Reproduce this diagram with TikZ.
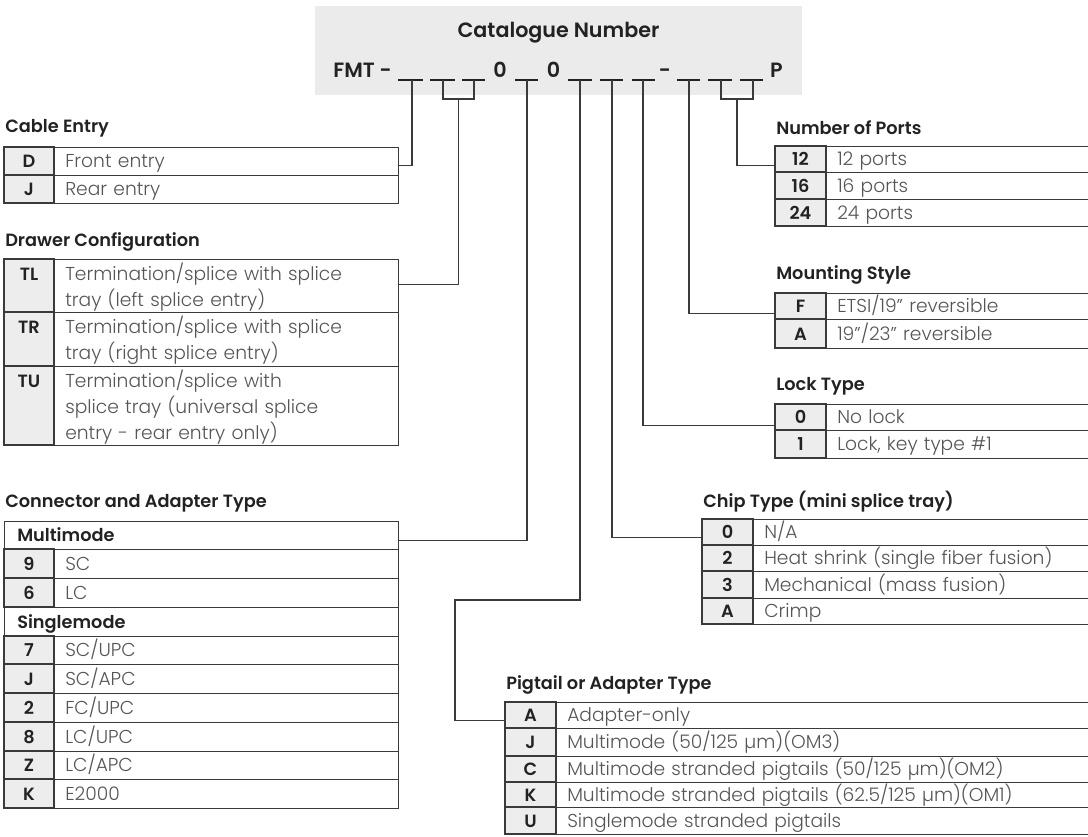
\documentclass[tikz,border=0pt]{standalone}
\usepackage{fontspec}
\setmainfont{Poppins}[UprightFont=* Light, BoldFont=* SemiBold]
\usepackage{tikz}
\usetikzlibrary{calc}
\definecolor{boxgray}{HTML}{EBEBEB}
\definecolor{codegray}{HTML}{EDEDED}
\definecolor{linegray}{HTML}{3A3A3A}
\definecolor{descgray}{HTML}{555555}
\definecolor{inkblack}{HTML}{222222}
\tikzset{
  tabtitle/.style={anchor=west, inner sep=0, font=\bfseries\fontsize{13.3}{16}\selectfont, text=inkblack},
  codetext/.style={inner sep=0, anchor=base, font=\bfseries\fontsize{13.3}{16}\selectfont, text=inkblack},
  desctext/.style={anchor=base west, inner sep=0, align=left, font=\fontsize{14}{19.5}\selectfont, text=descgray},
  rowbox/.style={draw=linegray, line width=1pt, inner sep=0, anchor=north west},
  leader/.style={draw=linegray, line width=1pt},
  slot/.style={draw=inkblack, line width=1.6pt},
  partno/.style={inner sep=0, anchor=base, font=\bfseries\fontsize{15.5}{18}\selectfont, text=inkblack}
}
\def\tabrow#1#2#3#4#5% Syntax: {name}{top}{bottom}{code}{description}
    { \node[rowbox, minimum width={(\tabR-\tabL)*0.75pt}, minimum height={(#3-#2)*0.75pt}] (#1) at (\tabL,#2) {};
      \filldraw[leader, fill=codegray] (\tabL,#2) rectangle (\tabD,#3);
      \pgfmathsetmacro\rowbase{#3-#2<35 ? (#2+#3)/2+6.5 : #2+21}
      \node[codetext] (#1c) at ({(\tabL+\tabD)/2},\rowbase) {#4};
      \node[desctext, text width={(\tabR-\tabD-22)*0.75pt}] (#1d) at (\tabD+11,\rowbase) {#5}; }
\def\tabhead#1#2#3#4% Syntax: {name}{top}{bottom}{text}
    { \node[rowbox, minimum width={(\tabR-\tabL)*0.75pt}, minimum height={(#3-#2)*0.75pt}] (#1) at (\tabL,#2) {};
      \node[codetext, anchor=base west] (#1c) at (\tabL+13,{(#2+#3)/2+6.5}) {#4}; }

\begin{document}
\begin{tikzpicture}[x=0.75pt,y=-0.75pt]
   \useasboundingbox (0,0) rectangle (1088,836);

   % catalogue number
   \node[fill=boxgray, inner sep=0, minimum width=365.25pt, minimum height=66.75pt] (catbox) at (558.5,50.5) {};
   \node[partno, anchor=center] (cattitle) at (558.5,33) {Catalogue Number};
   \node[partno, anchor=base east] (fmt) at (392,77) {FMT -};
   \node[partno] (zeroa) at (500,77) {0};
   \node[partno] (zerob) at (553.5,77) {0};
   \node[partno] (dash) at (665,77) {-};
   \node[partno] (pend) at (776.5,77) {P};

   \draw[slot] (398,80) -- (423,80);   \coordinate (u1) at (412,80);
   \draw[slot] (430,80) -- (455,80);   \coordinate (u2) at (443,80);
   \draw[slot] (462,80) -- (485,80);   \coordinate (u3) at (474,80);
   \draw[slot] (515,80) -- (538,80);   \coordinate (u4) at (527,80);
   \draw[slot] (568,80) -- (592,80);   \coordinate (u5) at (580,80);
   \draw[slot] (600,80) -- (623,80);   \coordinate (u6) at (612,80);
   \draw[slot] (632,80) -- (655,80);   \coordinate (u7) at (643,80);
   \draw[slot] (677,80) -- (700,80);   \coordinate (u8) at (689,80);
   \draw[slot] (708,80) -- (732,80);   \coordinate (u9) at (721,80);
   \draw[slot] (740,80) -- (763,80);   \coordinate (u10) at (753,80);

   % left column
   \def\tabL{4}\def\tabD{54}\def\tabR{398}
   \node[tabtitle] (cetitle) at (5,128) {Cable Entry};
   \tabrow{ce-D}{147}{175}{D}{Front entry}
   \tabrow{ce-J}{175}{203}{J}{Rear entry}

   \node[tabtitle] (dctitle) at (5,242) {Drawer Configuration};
   \tabrow{dc-TL}{259}{312}{TL}{Termination/splice with splice\\tray (left splice entry)}
   \tabrow{dc-TR}{312}{366}{TR}{Termination/splice with splice\\tray (right splice entry)}
   \tabrow{dc-TU}{366}{445}{TU}{Termination/splice with\\splice tray (universal splice\\entry - rear entry only)}

   \node[tabtitle] (cattitle) at (5,503) {Connector and Adapter Type};
   \tabhead{cat-MM}{521}{549}{Multimode}
   \tabrow{cat-9}{549}{578}{9}{SC}
   \tabrow{cat-6}{578}{607}{6}{LC}
   \tabhead{cat-SM}{607}{636}{Singlemode}
   \tabrow{cat-7}{636}{664}{7}{SC/UPC}
   \tabrow{cat-J}{664}{693}{J}{SC/APC}
   \tabrow{cat-2}{693}{722}{2}{FC/UPC}
   \tabrow{cat-8}{722}{751}{8}{LC/UPC}
   \tabrow{cat-Z}{751}{779}{Z}{LC/APC}
   \tabrow{cat-K}{779}{808}{K}{E2000}

   % right column
   \def\tabL{775}\def\tabD{826}\def\tabR{1100}
   \node[tabtitle] (nptitle) at (776,128) {Number of Ports};
   \tabrow{np-12}{146}{172}{12}{12 ports}
   \tabrow{np-16}{172}{199}{16}{16 ports}
   \tabrow{np-24}{199}{226}{24}{24 ports}

   \node[tabtitle] (mstitle) at (776,275) {Mounting Style};
   \tabrow{ms-F}{293}{319}{F}{ETSI/19" reversible}
   \tabrow{ms-A}{319}{348}{A}{19"/23" reversible}

   \node[tabtitle] (lttitle) at (776,386) {Lock Type};
   \tabrow{lt-0}{404}{430}{0}{No lock}
   \tabrow{lt-1}{430}{458}{1}{Lock, key type \#1}

   \def\tabL{702}\def\tabD{753}
   \node[tabtitle] (cttitle) at (703,502) {Chip Type (mini splice tray)};
   \tabrow{ct-0}{519}{545}{0}{N/A}
   \tabrow{ct-2}{545}{571}{2}{Heat shrink (single fiber fusion)}
   \tabrow{ct-3}{571}{598}{3}{Mechanical (mass fusion)}
   \tabrow{ct-A}{598}{624}{A}{Crimp}

   \def\tabL{505}\def\tabD{556}
   \node[tabtitle] (patitle) at (506,685) {Pigtail or Adapter Type};
   \tabrow{pa-A}{702}{728}{A}{Adapter-only}
   \tabrow{pa-J}{728}{756}{J}{Multimode (50/125 µm)(OM3)}
   \tabrow{pa-C}{756}{782}{C}{Multimode stranded pigtails (50/125 µm)(OM2)}
   \tabrow{pa-K}{782}{807}{K}{Multimode stranded pigtails (62.5/125 µm)(OM1)}
   \tabrow{pa-U}{807}{834}{U}{Singlemode stranded pigtails}

   % leaders
   \draw[leader] (u1) |- ($(ce-D.east)+(0,4)$);
   \draw[leader] (u2) -- ++(0,19) -| (u3);
   \draw[leader] ($(u2)!0.5!(u3)+(0,19)$) |- ($(dc-TL.east)+(0,-2)$);
   \draw[leader] (u4) |- ($(cat-MM.east)+(0,5)$);
   \draw[leader] (u5) -- ++(0,520) -| ($(pa-A.west)+(-50,5)$) -- ($(pa-A.west)+(0,5)$);
   \draw[leader] (u6) |- ($(ct-0.west)+(0,5)$);
   \draw[leader] (u7) |- ($(lt-0.west)+(0,8)$);
   \draw[leader] (u8) |- ($(ms-F.west)+(0,7)$);
   \draw[leader] (u9) -- ++(0,19) -| (u10);
   \draw[leader] ($(u9)!0.5!(u10)+(0,19)$) |- ($(np-12.west)+(0,6)$);

 \end{tikzpicture}
\end{document}
